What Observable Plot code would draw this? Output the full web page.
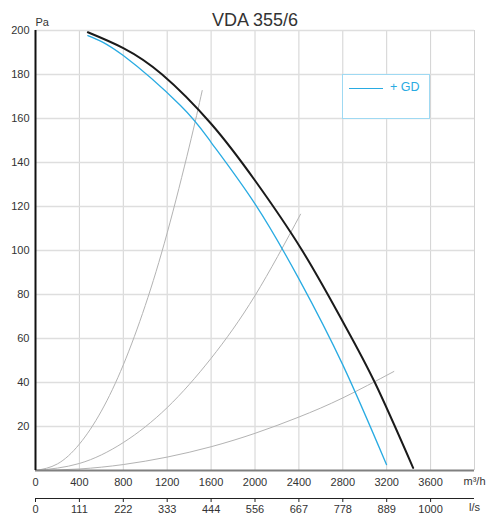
<!DOCTYPE html>
<html>
<head>
<meta charset="utf-8">
<script src="https://cdn.jsdelivr.net/npm/d3@7"></script>
<script src="https://cdn.jsdelivr.net/npm/@observablehq/plot@0.6"></script>
<style>
  body { margin: 0; background: #fff; }
  #wrap { position: relative; width: 486px; height: 521px; font-family: "Liberation Sans", Arial, sans-serif; }
  #legend { position: absolute; left: 342px; top: 74px; width: 88px; height: 45px; box-sizing: border-box;
            border: 1px solid #9fd9f2; background: #fff; }
  #legend .ln { position: absolute; left: 6px; top: 13px; width: 34px; height: 0; border-top: 1.2px solid #29abe2; }
  #legend .tx { position: absolute; left: 47px; top: 5px; font-size: 12.5px; color: #29abe2; }
</style>
</head>
<body>
<div id="wrap"></div>
<script>
// ---- data ----
const title = "VDA 355/6";
const legendLabel = "+ GD";
const xTicks = [0, 400, 800, 1200, 1600, 2000, 2400, 2800, 3200, 3600];
const xGrid = [400, 800, 1200, 1600, 2000, 2400, 2800, 3200, 3600, 4000];
const lsLabels = ["0", "111", "222", "333", "444", "556", "667", "778", "889", "1000"];
const yGrid = [20, 40, 60, 80, 100, 120, 140, 160, 180, 200];
const yTicks = [20, 40, 60, 80, 100, 120, 140, 160, 180, 200];

// fan curve (black), m³/h vs Pa
const fanX = [477, 800, 1154, 1600, 2000, 2430, 2794, 3092, 3441];
const fanY = [199.2, 192, 180, 157.6, 131.8, 100, 68.2, 40, 1.2];
// fan + GD curve (cyan)
const gdX = [477, 800, 1321, 1600, 2000, 2400, 2800, 3198];
const gdY = [197.7, 188.6, 165.9, 149.2, 121.2, 87.1, 48, 2.7];
// system curves (grey)
const sysAX = [0, 200, 400, 600, 800, 1000, 1200, 1400, 1519];
const sysAY = [0, 3, 12, 27, 48, 75, 108, 147, 172.7];
const sysBX = [0, 400, 800, 1200, 1600, 2000, 2415];
const sysBY = [0, 3.2, 12.7, 28.6, 51, 79.5, 116.5];
const sysCX = [0, 400, 800, 1200, 1600, 2000, 2400, 2800, 3265];
const sysCY = [0, 0.7, 2.7, 6.1, 10.8, 16.9, 24.3, 33, 45];

const toPts = (xs, ys) => xs.map((x, i) => ({x, y: ys[i]}));
const fan = toPts(fanX, fanY);
const gd = toPts(gdX, gdY);
const sysA = toPts(sysAX, sysAY);
const sysB = toPts(sysBX, sysBY);
const sysC = toPts(sysCX, sysCY);

const chart = Plot.plot({
  width: 486,
  height: 521,
  marginLeft: 35,
  marginRight: 12,
  marginTop: 30,
  marginBottom: 51,
  x: {domain: [0, 4000], axis: null},
  y: {domain: [0, 200], axis: null},
  style: {fontFamily: "'Liberation Sans', Arial, sans-serif", fontSize: "11px", color: "#333", background: "#fff", overflow: "visible"},
  marks: [
    Plot.ruleX(xGrid, {x: d => d, stroke: "#d2d2d2", strokeWidth: 1}),
    Plot.ruleY(yGrid, {y: d => d, stroke: "#dedede", strokeWidth: 1.4}),
    Plot.line(sysA, {x: "x", y: "y", stroke: "#b3b3b3", strokeWidth: 1, curve: "natural"}),
    Plot.line(sysB, {x: "x", y: "y", stroke: "#b3b3b3", strokeWidth: 1, curve: "natural"}),
    Plot.line(sysC, {x: "x", y: "y", stroke: "#b3b3b3", strokeWidth: 1, curve: "natural"}),
    Plot.line(gd, {x: "x", y: "y", stroke: "#29abe2", strokeWidth: 1.3, curve: "natural"}),
    Plot.line(fan, {x: "x", y: "y", stroke: "#1a1a1a", strokeWidth: 2, curve: "natural"}),
    Plot.ruleY([0], {stroke: "#808080", strokeWidth: 2}),
    Plot.ruleX([0], {stroke: "#111", strokeWidth: 2}),
    Plot.axisY(yTicks, {anchor: "left", tickSize: 0, tickPadding: 6, label: null, fill: "#333"}),
    Plot.axisX(xTicks, {anchor: "bottom", tickSize: 0, tickPadding: 8, label: null, fill: "#333", tickFormat: d => String(d)}),
    Plot.ruleY([0], {dy: 28, stroke: "#222", strokeWidth: 1}),
    Plot.axisX(xTicks, {anchor: "bottom", tickSize: 4, tickPadding: 3, dy: 28, label: null, fill: "#333", stroke: "#222",
      tickFormat: d => lsLabels[xTicks.indexOf(d)]}),
    Plot.text(["m³/h"], {frameAnchor: "bottom-right", dy: 14, textAnchor: "middle", fill: "#333"}),
    Plot.text(["l/s"], {frameAnchor: "bottom-right", dy: 40, textAnchor: "middle", fill: "#333"}),
    Plot.text(["Pa"], {frameAnchor: "top-left", dy: -5, lineAnchor: "bottom", textAnchor: "start", fill: "#333"}),
    Plot.text([title], {frameAnchor: "top", dy: -5, lineAnchor: "bottom", fontSize: 18, fill: "#333"})
  ]
});

const wrap = document.getElementById("wrap");
wrap.appendChild(chart);
const leg = document.createElement("div");
leg.id = "legend";
leg.innerHTML = '<div class="ln"></div><div class="tx"></div>';
leg.querySelector(".tx").textContent = legendLabel;
wrap.appendChild(leg);
</script>
</body>
</html>
